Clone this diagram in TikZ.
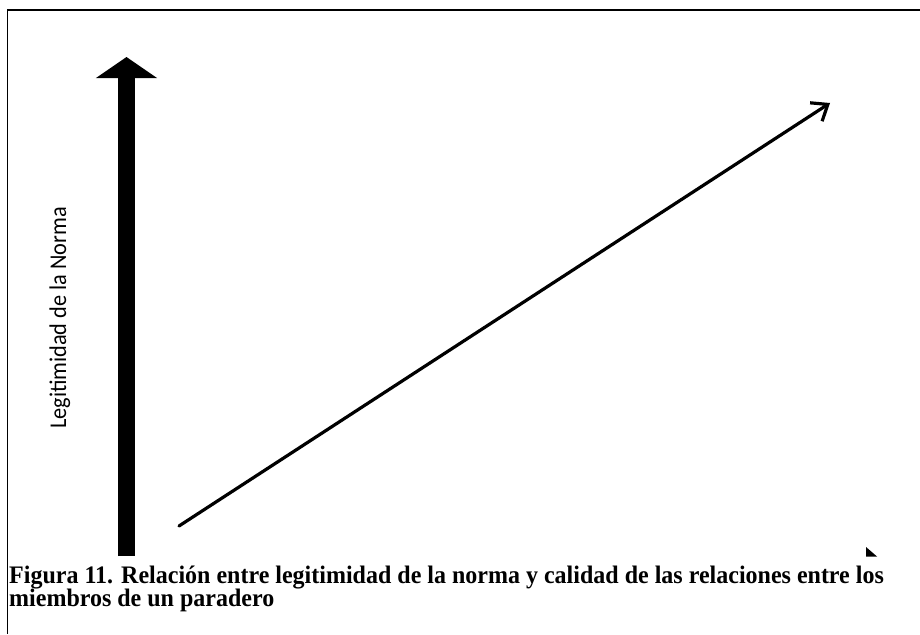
\documentclass[tikz,border=0pt]{standalone}
\usepackage{fontspec}
\setmainfont{Liberation Serif}
\newfontfamily\calib{Carlito}
\usetikzlibrary{arrows.meta}
\begin{document}
\begin{tikzpicture}[x=1pt,y=-1pt,
  frame/.style={line width=1.6pt},
  thickarrow/.style={line width=17pt,-{Triangle[length=21pt,width=60pt]}},
  thinarrow/.style={line width=3.2pt,line cap=round,-{Straight Barb[length=14pt,width=22pt,line width=3.2pt]}},
  axislabel/.style={font=\calib\fontsize{24}{28}\selectfont,rotate=90,inner sep=0pt,anchor=base},
  caption/.style={font=\bfseries\fontsize{24}{23}\selectfont,inner sep=0pt,anchor=base west}]
\useasboundingbox (0,0) rectangle (920,634);
\fill[white] (0,0) rectangle (920,634);
\draw[frame] (920,10) -- (7.5,10) -- (7.5,634);
% vertical thick arrow
\coordinate (ybot) at (126.5,556);
\coordinate (ytop) at (126.5,57);
\draw[thickarrow] (ybot) -- (ytop);
% diagonal arrow
\coordinate (dstart) at (179,526);
\coordinate (dend) at (830,103);
\draw[thinarrow] (dstart) -- (dend);
% clipped arrowhead of horizontal axis
\fill (866,547) -- (866,556.5) -- (877,556.5) -- cycle;
% axis label
\node[axislabel] (ylabel) at (66,318) {\scalebox{0.93}[1]{Legitimidad de la Norma}};
% caption
\node[caption] (cap1) at (9,583) {\scalebox{1}[1.05]{Figura 11. Relación entre legitimidad de la norma y calidad de las relaciones entre los}};
\node[caption] (cap2) at (9,606) {\scalebox{1}[1.05]{miembros de un paradero}};
\end{tikzpicture}
\end{document}
